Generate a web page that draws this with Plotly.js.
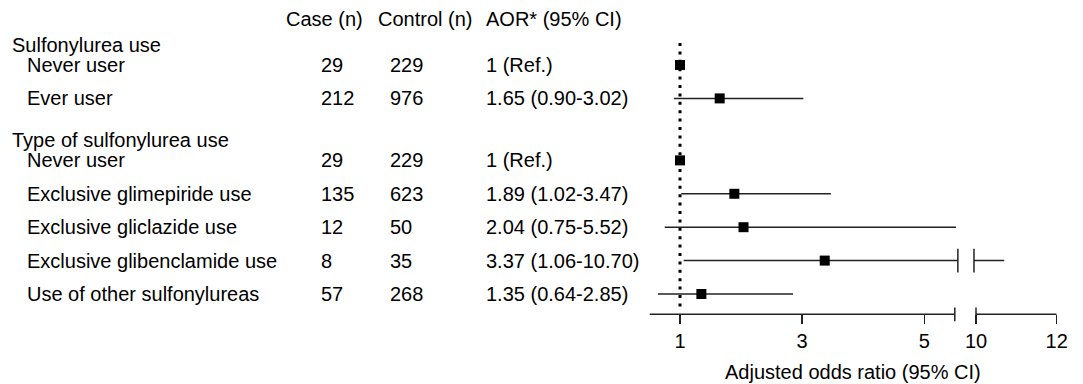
<!DOCTYPE html>
<html><head><meta charset="utf-8">
<script src="https://cdn.plot.ly/plotly-3.0.1.min.js"></script>
<style>html,body{margin:0;padding:0;background:#fff}#chart{width:1083px;height:384px}</style>
</head><body><div id="chart"></div>
<script>
// ---- data ----
const groupNames = ["Sulfonylurea use", "Type of sulfonylurea use"];
const rowLabels = ["Never user", "Ever user", "Never user", "Exclusive glimepiride use",
  "Exclusive gliclazide use", "Exclusive glibenclamide use", "Use of other sulfonylureas"];
const rowGroup = [0, 0, 1, 1, 1, 1, 1];
const caseN = [29, 212, 29, 135, 12, 8, 57];
const controlN = [229, 976, 229, 623, 50, 35, 268];
const aorValue = [1, 1.65, 1, 1.89, 2.04, 3.37, 1.35];
const ciLower = [null, 0.90, null, 1.02, 0.75, 1.06, 0.64];
const ciUpper = [null, 3.02, null, 3.47, 5.52, 10.70, 2.85];
const columnHeaders = ["Case (n)", "Control (n)", "AOR* (95% CI)"];
const leftTicks = [1, 3, 5];
const rightTicks = [10, 12];
const xTitle = "Adjusted odds ratio (95% CI)";
const refValue = 1;

// ---- layout constants ----
const W = 1083, H = 384;
const rowPx = 33.4, firstRowPx = 65, axisPx = 314.3;
const groupGap = 0.856;
const leftRange = [0.5, 5.55], leftAxisEnd = 5.5;
const rightRange = [9.95, 12], rightAxisStart = 10;
const font = {family: "Liberation Sans, Arial, sans-serif", size: 20, color: "#000"};
const lineColor = "#222";
const col = {heading: 10, label: 25, caseX: 319, controlX: 388, aorX: 484, hCase: 284, hControl: 376, hAor: 484};

const toRow = p => (p - firstRowPx) / rowPx;
const rowY = rowLabels.map((_, i) => i + rowGroup[i] * groupGap);

const traces = [];
// reference dotted line
traces.push({x: [refValue, refValue], y: [toRow(43), toRow(310)], mode: "lines", xaxis: "x", yaxis: "y",
  line: {color: "#000", width: 3, dash: "3px,5.4px"}, hoverinfo: "skip", showlegend: false});

// CI segments
const lx = [], ly = [], rx = [], ry = [], capLx = [], capLy = [], capRx = [], capRy = [];
rowY.forEach((y, i) => {
  if (ciLower[i] === null) return;
  if (ciUpper[i] <= leftRange[1]) {
    lx.push(ciLower[i], ciUpper[i], null); ly.push(y, y, null);
  } else {
    lx.push(ciLower[i], leftRange[1], null); ly.push(y, y, null);
    rx.push(rightRange[0], ciUpper[i], null); ry.push(y, y, null);
    capLx.push(leftRange[1]); capLy.push(y);
    capRx.push(rightRange[0]); capRy.push(y);
  }
});
traces.push({x: lx, y: ly, mode: "lines", xaxis: "x", yaxis: "y", line: {color: lineColor, width: 1.5},
  hoverinfo: "skip", showlegend: false});
traces.push({x: rx, y: ry, mode: "lines", xaxis: "x2", yaxis: "y", line: {color: lineColor, width: 1.5},
  hoverinfo: "skip", showlegend: false});
const capMarker = {symbol: "line-ns-open", size: 17, color: lineColor, line: {color: lineColor, width: 1.5}};
traces.push({x: capLx, y: capLy, mode: "markers", xaxis: "x", yaxis: "y", cliponaxis: false,
  marker: capMarker, hoverinfo: "skip", showlegend: false});
traces.push({x: capRx, y: capRy, mode: "markers", xaxis: "x2", yaxis: "y", cliponaxis: false,
  marker: capMarker, hoverinfo: "skip", showlegend: false});
// point estimates
traces.push({x: aorValue, y: rowY, mode: "markers", xaxis: "x", yaxis: "y", cliponaxis: false,
  marker: {symbol: "square", size: 10, color: "#000"}, hoverinfo: "skip", showlegend: false});

// annotations
const ann = [];
const txt = (text, xpx, y, yref) => ann.push({text, x: xpx / W, xref: "paper", y, yref: yref || "y",
  xanchor: "left", yanchor: "middle", showarrow: false, font});
txt(columnHeaders[0], col.hCase, toRow(18.5));
txt(columnHeaders[1], col.hControl, toRow(18.5));
txt(columnHeaders[2], col.hAor, toRow(18.5));
groupNames.forEach((g, gi) => {
  const first = rowGroup.indexOf(gi);
  txt(g, col.heading, rowY[first] - 0.61);
});
const fmt = v => v.toFixed(2);
rowY.forEach((y, i) => {
  txt(rowLabels[i], col.label, y);
  txt(String(caseN[i]), col.caseX, y);
  txt(String(controlN[i]), col.controlX, y);
  const t = ciLower[i] === null ? `${aorValue[i]} (Ref.)` : `${fmt(aorValue[i])} (${fmt(ciLower[i])}-${fmt(ciUpper[i])})`;
  txt(t, col.aorX, y);
});
ann.push({text: xTitle, x: 853 / W, xref: "paper", y: 1 - 372 / H, yref: "paper", xanchor: "center", yanchor: "middle",
  showarrow: false, font});

// domains
const lpx = 61.07, rpx = 40.35;
const lStart = 680 - (1 - leftRange[0]) * lpx, lEnd = 680 + (leftRange[1] - 1) * lpx;
const rStart = 976 - (10 - rightRange[0]) * rpx, rEnd = 976 + (rightRange[1] - 10) * rpx;

const shapes = [
  {type: "line", xref: "x", yref: "y domain", x0: leftRange[0], x1: leftAxisEnd, y0: 0, y1: 0, line: {color: lineColor, width: 1.5}},
  {type: "line", xref: "x", yref: "y domain", x0: leftAxisEnd, x1: leftAxisEnd, y0: -0.022, y1: 0.022, line: {color: lineColor, width: 1.5}},
  {type: "line", xref: "x2", yref: "y domain", x0: rightAxisStart, x1: rightRange[1], y0: 0, y1: 0, line: {color: lineColor, width: 1.5}},
  {type: "line", xref: "x2", yref: "y domain", x0: rightAxisStart, x1: rightAxisStart, y0: -0.022, y1: 0.022, line: {color: lineColor, width: 1.5}}
];

const axisCommon = {showgrid: false, zeroline: false, showline: false, ticks: "outside", ticklen: 9, tickwidth: 1.5,
  tickcolor: lineColor, tickfont: font, fixedrange: true, anchor: "y"};
const layout = {
  width: W, height: H, margin: {l: 0, r: 0, t: 0, b: 0}, paper_bgcolor: "#fff", plot_bgcolor: "#fff",
  showlegend: false,
  xaxis: Object.assign({}, axisCommon, {domain: [lStart / W, lEnd / W], range: leftRange, tickmode: "array", tickvals: leftTicks}),
  xaxis2: Object.assign({}, axisCommon, {domain: [rStart / W, rEnd / W], range: rightRange, tickmode: "array", tickvals: rightTicks}),
  yaxis: {domain: [1 - axisPx / H, 1], range: [toRow(axisPx), toRow(0)], showgrid: false, zeroline: false,
    showticklabels: false, showline: false, ticks: "", fixedrange: true},
  annotations: ann, shapes
};
Plotly.newPlot("chart", traces, layout, {staticPlot: true, displayModeBar: false});
</script></body></html>
